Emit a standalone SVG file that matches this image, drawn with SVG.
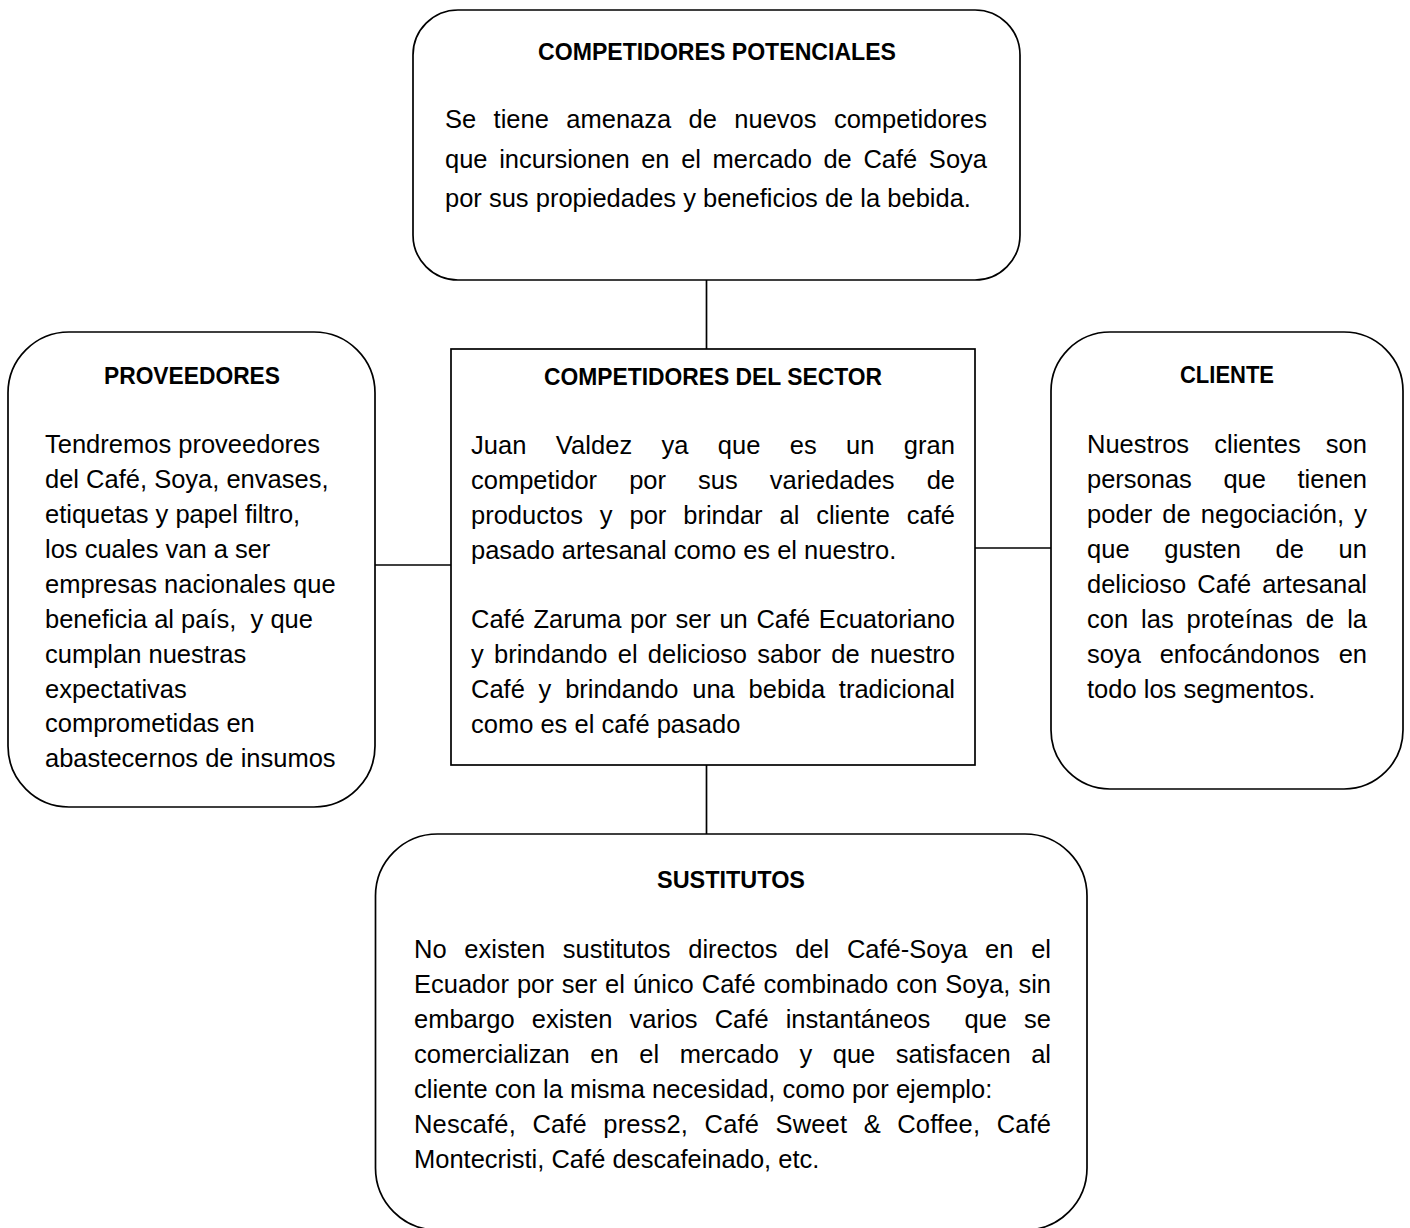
<svg xmlns="http://www.w3.org/2000/svg" width="1410" height="1228" viewBox="0 0 1410 1228">
<style>
.box{fill:#fff;stroke:#000;stroke-width:1.7}
.ln{stroke:#000;stroke-width:1.7;fill:none}
.t{font-family:"Liberation Sans",Arial,sans-serif;font-size:25.5px;fill:#000}
.h{font-family:"Liberation Sans",Arial,sans-serif;font-size:24px;font-weight:bold;fill:#000;text-anchor:middle}
.pre{white-space:pre}
</style>
<rect width="1410" height="1228" fill="#fff"/>
<g id="connectors">
<line class="ln" x1="706.5" y1="280" x2="706.5" y2="349"/>
<line class="ln" x1="706.5" y1="765" x2="706.5" y2="834"/>
<line class="ln" x1="375" y1="565" x2="451" y2="565"/>
<line class="ln" x1="975" y1="548" x2="1051" y2="548"/>
</g>
<g id="competidores-potenciales">
<rect class="box" x="413" y="10" width="607" height="270" rx="45" ry="45"/>
<text class="h" x="717" y="60" textLength="358" lengthAdjust="spacingAndGlyphs">COMPETIDORES POTENCIALES</text>
<text class="t" x="445" y="128" style="word-spacing:10.3px" textLength="542" lengthAdjust="spacing">Se tiene amenaza de nuevos competidores</text>
<text class="t" x="445" y="167.5" style="word-spacing:4.5px" textLength="542" lengthAdjust="spacing">que incursionen en el mercado de Café Soya</text>
<text class="t" x="445" y="207">por sus propiedades y beneficios de la bebida.</text>
</g>
<g id="proveedores">
<rect class="box" x="8" y="332" width="367" height="475" rx="61" ry="61"/>
<text class="h" x="192" y="384" textLength="176" lengthAdjust="spacingAndGlyphs">PROVEEDORES</text>
<text class="t" x="45" y="453">Tendremos proveedores</text>
<text class="t" x="45" y="488">del Café, Soya, envases,</text>
<text class="t" x="45" y="523">etiquetas y papel filtro,</text>
<text class="t" x="45" y="558">los cuales van a ser</text>
<text class="t" x="45" y="593">empresas nacionales que</text>
<text class="t pre" x="45" y="628">beneficia al país,  y que</text>
<text class="t" x="45" y="663">cumplan nuestras</text>
<text class="t" x="45" y="698">expectativas</text>
<text class="t" x="45" y="732">comprometidas en</text>
<text class="t" x="45" y="767">abastecernos de insumos</text>
</g>
<g id="competidores-del-sector">
<rect class="box" x="451" y="349" width="524" height="416"/>
<text class="h" x="713" y="385" textLength="338" lengthAdjust="spacingAndGlyphs">COMPETIDORES DEL SECTOR</text>
<text class="t" x="471" y="454" style="word-spacing:22px" textLength="484" lengthAdjust="spacing">Juan Valdez ya que es un gran</text>
<text class="t" x="471" y="489" style="word-spacing:25px" textLength="484" lengthAdjust="spacing">competidor por sus variedades de</text>
<text class="t" x="471" y="524" style="word-spacing:9.8px" textLength="484" lengthAdjust="spacing">productos y por brindar al cliente café</text>
<text class="t" x="471" y="559">pasado artesanal como es el nuestro.</text>
<text class="t" x="471" y="628" style="word-spacing:1.5px" textLength="484" lengthAdjust="spacing">Café Zaruma por ser un Café Ecuatoriano</text>
<text class="t" x="471" y="663" style="word-spacing:3.2px" textLength="484" lengthAdjust="spacing">y brindando el delicioso sabor de nuestro</text>
<text class="t" x="471" y="698" style="word-spacing:6.7px" textLength="484" lengthAdjust="spacing">Café y brindando una bebida tradicional</text>
<text class="t" x="471" y="733">como es el café pasado</text>
</g>
<g id="cliente">
<rect class="box" x="1051" y="332" width="352" height="457" rx="59" ry="59"/>
<text class="h" x="1227" y="383" textLength="94" lengthAdjust="spacingAndGlyphs">CLIENTE</text>
<text class="t" x="1087" y="453" style="word-spacing:18px" textLength="280" lengthAdjust="spacing">Nuestros clientes son</text>
<text class="t" x="1087" y="488" style="word-spacing:24.5px" textLength="280" lengthAdjust="spacing">personas que tienen</text>
<text class="t" x="1087" y="523" style="word-spacing:3px" textLength="280" lengthAdjust="spacing">poder de negociación, y</text>
<text class="t" x="1087" y="558" style="word-spacing:27.6px" textLength="280" lengthAdjust="spacing">que gusten de un</text>
<text class="t" x="1087" y="593" style="word-spacing:4px" textLength="280" lengthAdjust="spacing">delicioso Café artesanal</text>
<text class="t" x="1087" y="628" style="word-spacing:5.9px" textLength="280" lengthAdjust="spacing">con las proteínas de la</text>
<text class="t" x="1087" y="663" style="word-spacing:11.7px" textLength="280" lengthAdjust="spacing">soya enfocándonos en</text>
<text class="t" x="1087" y="698">todo los segmentos.</text>
</g>
<g id="sustitutos">
<rect class="box" x="375.5" y="834" width="711.5" height="396" rx="62" ry="62"/>
<text class="h" x="731" y="888" textLength="148" lengthAdjust="spacingAndGlyphs">SUSTITUTOS</text>
<text class="t" x="414" y="958" style="word-spacing:10.6px" textLength="637" lengthAdjust="spacing">No existen sustitutos directos del Café-Soya en el</text>
<text class="t" x="414" y="993" style="word-spacing:0.9px" textLength="637" lengthAdjust="spacing">Ecuador por ser el único Café combinado con Soya, sin</text>
<text class="t pre" x="414" y="1028" style="word-spacing:10px" textLength="637" lengthAdjust="spacing">embargo existen varios Café instantáneos  que se</text>
<text class="t" x="414" y="1063" style="word-spacing:13.5px" textLength="637" lengthAdjust="spacing">comercializan en el mercado y que satisfacen al</text>
<text class="t" x="414" y="1098">cliente con la misma necesidad, como por ejemplo:</text>
<text class="t" x="414" y="1133" style="word-spacing:9.2px" textLength="637" lengthAdjust="spacing">Nescafé, Café press2, Café Sweet &amp; Coffee, Café</text>
<text class="t" x="414" y="1168">Montecristi, Café descafeinado, etc.</text>
</g>
</svg>
